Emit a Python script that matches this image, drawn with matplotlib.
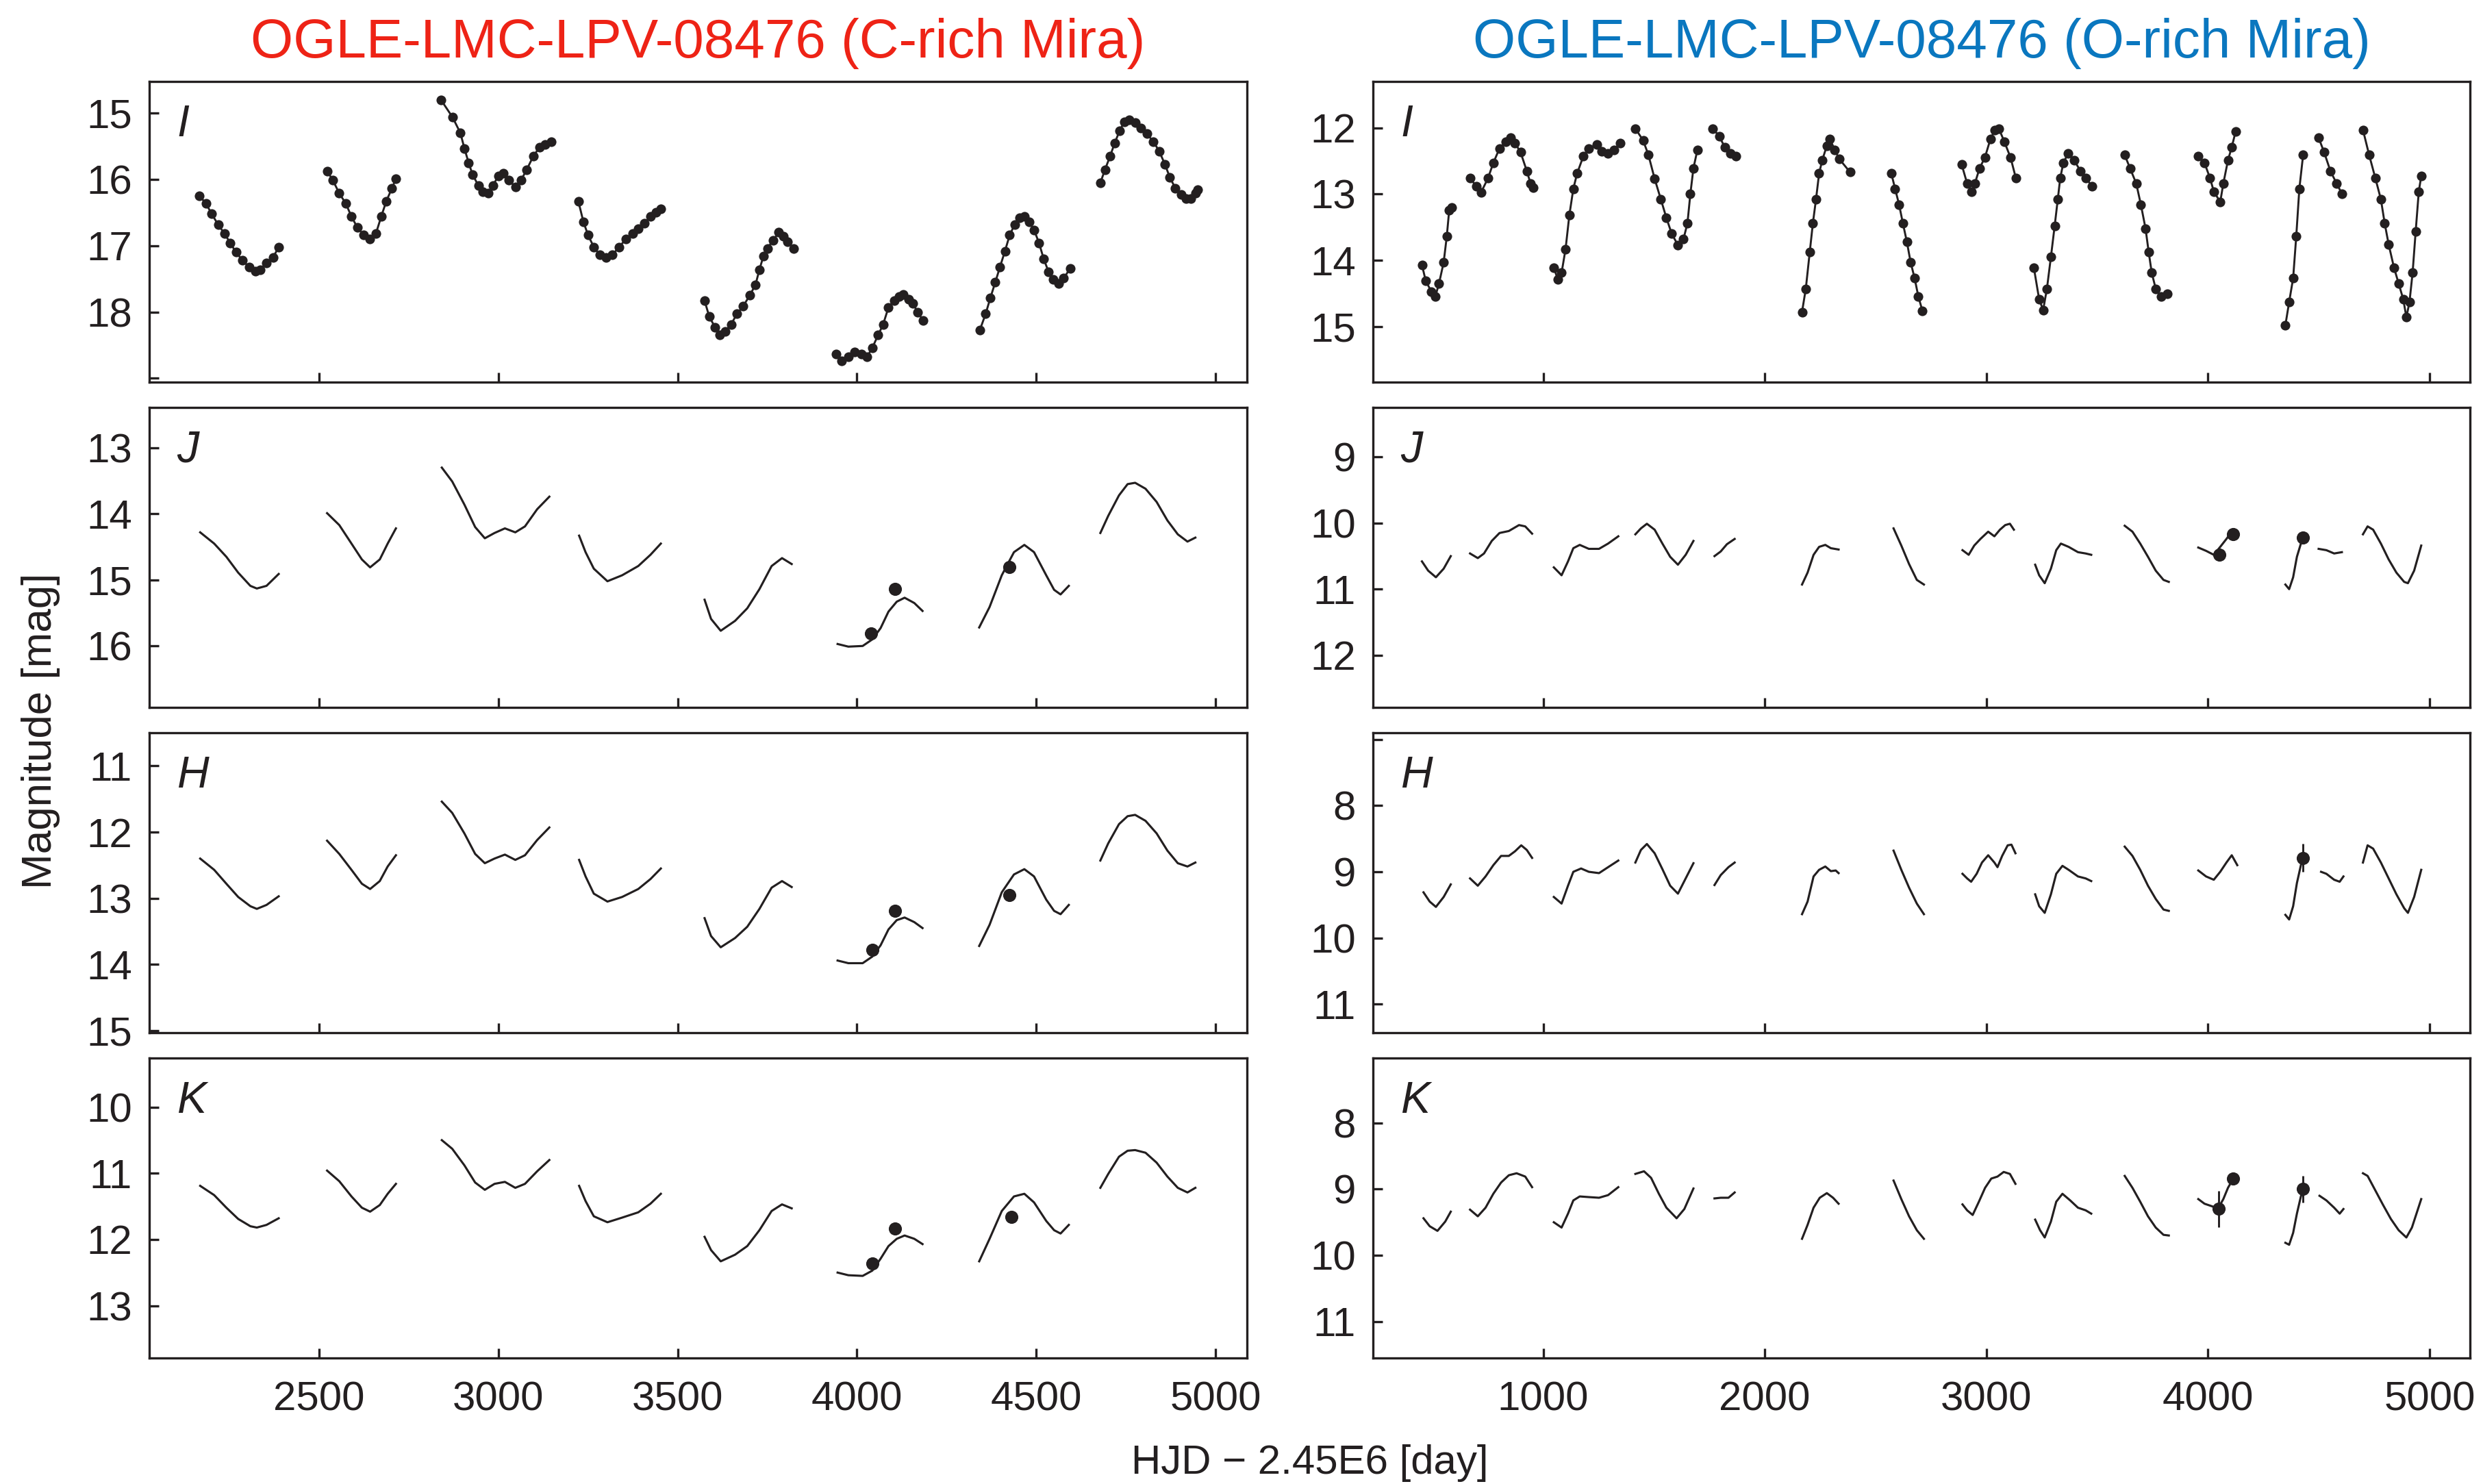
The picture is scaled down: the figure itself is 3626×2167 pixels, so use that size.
import matplotlib
matplotlib.use('Agg')
import matplotlib.pyplot as plt

plt.rcParams['font.family'] = ['Liberation Sans', 'DejaVu Sans']

# ---------------- data : C-rich (left column) ----------------
C_I_t = [
    [2166, 2184, 2200, 2218, 2236, 2252, 2268, 2286, 2304, 2322, 2335, 2353, 2371, 2387],
    [2522, 2538, 2556, 2574, 2590, 2606, 2624, 2642, 2658, 2673, 2687, 2703, 2714],
    [2840, 2872, 2894, 2905, 2917, 2928, 2944, 2957, 2971, 2984, 3000, 3014, 3029, 3047, 3063, 3079, 3097, 3115, 3131, 3147],
    [3223, 3237, 3250, 3266, 3282, 3300, 3318, 3336, 3356, 3374, 3390, 3408, 3424, 3439, 3453],
    [3575, 3588, 3604, 3617, 3633, 3649, 3665, 3683, 3701, 3717, 3728, 3739, 3750, 3766, 3782, 3795, 3807, 3823],
    [3942, 3958, 3976, 3994, 4012, 4028, 4043, 4059, 4073, 4088, 4104, 4118, 4129, 4145, 4156, 4170, 4185],
    [4343, 4359, 4372, 4386, 4399, 4413, 4426, 4440, 4453, 4467, 4480, 4494, 4508, 4521, 4535, 4548, 4562, 4577, 4595],
    [4679, 4692, 4706, 4719, 4733, 4746, 4760, 4776, 4791, 4809, 4827, 4843, 4859, 4873, 4888, 4904, 4918, 4931, 4945, 4951],
]
C_I_m = [
    [16.25, 16.36, 16.52, 16.68, 16.82, 16.96, 17.10, 17.22, 17.32, 17.38, 17.36, 17.26, 17.18, 17.02],
    [15.87, 16.01, 16.21, 16.36, 16.56, 16.72, 16.84, 16.90, 16.82, 16.56, 16.33, 16.13, 15.99],
    [14.80, 15.06, 15.30, 15.53, 15.75, 15.93, 16.09, 16.19, 16.21, 16.09, 15.95, 15.91, 16.01, 16.11, 16.01, 15.85, 15.65, 15.51, 15.47, 15.43],
    [16.33, 16.64, 16.84, 17.02, 17.14, 17.18, 17.14, 17.02, 16.90, 16.82, 16.74, 16.66, 16.56, 16.50, 16.44],
    [17.83, 18.07, 18.23, 18.35, 18.29, 18.19, 18.03, 17.91, 17.75, 17.59, 17.36, 17.16, 17.04, 16.92, 16.80, 16.86, 16.94, 17.04],
    [18.64, 18.74, 18.68, 18.60, 18.64, 18.68, 18.54, 18.35, 18.19, 17.93, 17.83, 17.77, 17.74, 17.81, 17.87, 18.01, 18.13],
    [18.27, 18.03, 17.79, 17.55, 17.32, 17.08, 16.84, 16.68, 16.58, 16.56, 16.64, 16.76, 16.96, 17.20, 17.40, 17.51, 17.57, 17.49, 17.34],
    [16.05, 15.85, 15.65, 15.45, 15.26, 15.13, 15.10, 15.14, 15.22, 15.31, 15.43, 15.57, 15.77, 15.97, 16.13, 16.23, 16.29, 16.29, 16.21, 16.15],
]

C_J_t = [
    [2168, 2207, 2241, 2274, 2308, 2326, 2353, 2387],
    [2522, 2556, 2590, 2619, 2642, 2669, 2691, 2714],
    [2842, 2871, 2905, 2935, 2962, 2989, 3018, 3047, 3074, 3108, 3142],
    [3225, 3243, 3266, 3304, 3345, 3390, 3424, 3453],
    [3575, 3593, 3620, 3660, 3694, 3728, 3762, 3791, 3818],
    [3946, 3976, 4016, 4043, 4066, 4088, 4111, 4133, 4160, 4183],
    [4341, 4370, 4404, 4438, 4467, 4494, 4528, 4550, 4568, 4591],
    [4679, 4701, 4731, 4755, 4776, 4805, 4836, 4866, 4895, 4922, 4944],
]
C_J_m = [
    [14.28, 14.45, 14.65, 14.89, 15.09, 15.13, 15.09, 14.91],
    [13.99, 14.17, 14.45, 14.69, 14.81, 14.69, 14.45, 14.22],
    [13.30, 13.51, 13.86, 14.20, 14.37, 14.29, 14.22, 14.28, 14.19, 13.93, 13.74],
    [14.33, 14.58, 14.83, 15.02, 14.93, 14.79, 14.62, 14.45],
    [15.30, 15.59, 15.77, 15.62, 15.43, 15.14, 14.79, 14.67, 14.76],
    [15.97, 16.01, 16.00, 15.90, 15.73, 15.48, 15.33, 15.27, 15.35, 15.47],
    [15.72, 15.41, 14.93, 14.58, 14.47, 14.58, 14.93, 15.15, 15.22, 15.09],
    [14.29, 14.03, 13.72, 13.55, 13.53, 13.62, 13.82, 14.10, 14.31, 14.42, 14.36],
]
C_H_t = C_J_t
C_H_m = [
    [12.40, 12.57, 12.78, 12.98, 13.12, 13.16, 13.10, 12.97],
    [12.13, 12.33, 12.57, 12.78, 12.86, 12.74, 12.52, 12.35],
    [11.54, 11.71, 12.02, 12.33, 12.47, 12.40, 12.34, 12.42, 12.35, 12.12, 11.93],
    [12.42, 12.67, 12.93, 13.05, 12.98, 12.86, 12.71, 12.55],
    [13.30, 13.57, 13.74, 13.60, 13.43, 13.16, 12.84, 12.74, 12.83],
    [13.94, 13.98, 13.98, 13.88, 13.71, 13.47, 13.33, 13.29, 13.36, 13.45],
    [13.72, 13.40, 12.91, 12.64, 12.56, 12.67, 13.02, 13.19, 13.24, 13.10],
    [12.43, 12.17, 11.88, 11.76, 11.74, 11.83, 12.02, 12.28, 12.47, 12.52, 12.46],
]
C_K_t = C_J_t
C_K_m = [
    [11.19, 11.33, 11.52, 11.69, 11.80, 11.82, 11.78, 11.68],
    [10.96, 11.12, 11.35, 11.52, 11.58, 11.48, 11.31, 11.16],
    [10.50, 10.63, 10.88, 11.14, 11.25, 11.16, 11.13, 11.22, 11.16, 10.97, 10.80],
    [11.19, 11.42, 11.65, 11.74, 11.67, 11.59, 11.46, 11.31],
    [11.96, 12.16, 12.33, 12.23, 12.10, 11.86, 11.57, 11.47, 11.53],
    [12.50, 12.54, 12.55, 12.47, 12.29, 12.10, 11.99, 11.94, 11.99, 12.07],
    [12.33, 11.99, 11.57, 11.35, 11.31, 11.44, 11.72, 11.86, 11.91, 11.78],
    [11.22, 11.01, 10.75, 10.66, 10.65, 10.69, 10.84, 11.05, 11.22, 11.29, 11.22],
]
# single-epoch NIR measurements (time, mag, error)
C_J_pts = ([4039, 4106, 4426], [15.81, 15.14, 14.81], [0.08, 0.0, 0.0])
C_H_pts = ([4043, 4106, 4426], [13.78, 13.19, 12.95], [0.0, 0.0, 0.0])
C_K_pts = ([4043, 4106, 4431], [12.36, 11.84, 11.66], [0.0, 0.0, 0.0])

# ---------------- data : O-rich (right column) ----------------
O_I_t = [
    [453, 470, 495, 513, 530, 551, 565, 576, 586],
    [670, 698, 719, 751, 775, 803, 831, 852, 873, 898, 926, 943, 954],
    [1048, 1066, 1083, 1101, 1118, 1136, 1153, 1181, 1206, 1241, 1265, 1293, 1321, 1346],
    [1416, 1451, 1475, 1503, 1531, 1556, 1580, 1608, 1633, 1651, 1664, 1678, 1696],
    [1766, 1795, 1819, 1846, 1871],
    [2168, 2185, 2203, 2217, 2231, 2245, 2259, 2280, 2294, 2315, 2336, 2385],
    [2571, 2588, 2606, 2623, 2641, 2658, 2676, 2693, 2711],
    [2888, 2913, 2934, 2948, 2969, 2993, 3018, 3039, 3056, 3081, 3109, 3133],
    [3214, 3238, 3256, 3273, 3291, 3308, 3322, 3333, 3347, 3368, 3396, 3424, 3448, 3477],
    [3624, 3648, 3676, 3697, 3718, 3732, 3746, 3764, 3788, 3816],
    [3956, 3984, 4009, 4026, 4055, 4069, 4090, 4107, 4125],
    [4349, 4366, 4384, 4398, 4412, 4429],
    [4499, 4524, 4552, 4580, 4605],
    [4699, 4727, 4755, 4780, 4797, 4815, 4839, 4860, 4881, 4895, 4909, 4923, 4937, 4951, 4962],
]
O_I_m = [
    [14.07, 14.31, 14.47, 14.55, 14.35, 14.03, 13.64, 13.24, 13.20],
    [12.76, 12.88, 12.98, 12.76, 12.53, 12.31, 12.21, 12.15, 12.23, 12.37, 12.65, 12.84, 12.90],
    [14.11, 14.29, 14.19, 13.83, 13.32, 12.92, 12.69, 12.43, 12.31, 12.25, 12.35, 12.39, 12.33, 12.23],
    [12.01, 12.19, 12.41, 12.77, 13.08, 13.36, 13.60, 13.77, 13.68, 13.44, 13.00, 12.61, 12.33],
    [12.01, 12.13, 12.29, 12.39, 12.43],
    [14.78, 14.43, 13.87, 13.44, 13.08, 12.69, 12.49, 12.27, 12.17, 12.33, 12.47, 12.67],
    [12.69, 12.92, 13.16, 13.44, 13.72, 14.03, 14.27, 14.55, 14.76],
    [12.55, 12.84, 12.96, 12.84, 12.61, 12.45, 12.17, 12.03, 12.01, 12.21, 12.45, 12.76],
    [14.11, 14.59, 14.75, 14.43, 13.95, 13.48, 13.08, 12.76, 12.53, 12.39, 12.49, 12.65, 12.76, 12.88],
    [12.41, 12.61, 12.84, 13.16, 13.52, 13.87, 14.19, 14.43, 14.55, 14.51],
    [12.43, 12.53, 12.76, 12.96, 13.12, 12.84, 12.49, 12.29, 12.05],
    [14.98, 14.63, 14.27, 13.64, 12.92, 12.41],
    [12.15, 12.37, 12.65, 12.84, 13.00],
    [12.03, 12.41, 12.76, 13.08, 13.44, 13.76, 14.11, 14.35, 14.59, 14.86, 14.63, 14.19, 13.56, 12.96, 12.73],
]

O_J_t = [
    [453, 481, 516, 551, 583],
    [670, 705, 733, 768, 803, 845, 891, 919, 950],
    [1048, 1083, 1112, 1136, 1165, 1206, 1252, 1293, 1339],
    [1416, 1441, 1468, 1503, 1538, 1573, 1608, 1643, 1678],
    [1773, 1801, 1829, 1864],
    [2168, 2193, 2220, 2245, 2273, 2298, 2333],
    [2581, 2616, 2651, 2686, 2718],
    [2892, 2920, 2945, 2973, 3008, 3036, 3061, 3085, 3106, 3124],
    [3220, 3238, 3263, 3291, 3315, 3336, 3371, 3413, 3448, 3473],
    [3624, 3659, 3694, 3729, 3764, 3799, 3823],
    [3956, 3991, 4026, 4055, 4083, 4114],
    [4349, 4366, 4384, 4401, 4419, 4429],
    [4499, 4534, 4569, 4604],
    [4699, 4720, 4745, 4780, 4815, 4850, 4885, 4902, 4930, 4962],
]
O_J_m = [
    [10.58, 10.72, 10.82, 10.69, 10.50],
    [10.46, 10.53, 10.46, 10.27, 10.15, 10.12, 10.03, 10.05, 10.16],
    [10.67, 10.79, 10.58, 10.38, 10.33, 10.39, 10.39, 10.31, 10.20],
    [10.17, 10.08, 10.01, 10.10, 10.31, 10.51, 10.63, 10.48, 10.27],
    [10.50, 10.43, 10.32, 10.24],
    [10.93, 10.75, 10.48, 10.36, 10.33, 10.38, 10.40],
    [10.08, 10.34, 10.62, 10.86, 10.93],
    [10.41, 10.48, 10.34, 10.24, 10.13, 10.20, 10.10, 10.03, 10.01, 10.10],
    [10.63, 10.79, 10.91, 10.69, 10.41, 10.31, 10.36, 10.44, 10.46, 10.48],
    [10.04, 10.13, 10.31, 10.51, 10.72, 10.86, 10.89],
    [10.37, 10.42, 10.48, 10.36, 10.24, 10.10],
    [10.93, 11.00, 10.82, 10.51, 10.31, 10.22],
    [10.39, 10.41, 10.46, 10.44],
    [10.17, 10.05, 10.10, 10.31, 10.55, 10.75, 10.89, 10.91, 10.72, 10.34],
]
O_H_t = [
    [460, 488, 516, 551, 583],
    [670, 705, 740, 775, 810, 845, 873, 901, 926, 950],
    [1048, 1083, 1112, 1136, 1171, 1206, 1252, 1293, 1339],
    [1416, 1441, 1468, 1503, 1538, 1573, 1608, 1643, 1678],
    [1773, 1801, 1836, 1864],
    [2168, 2193, 2220, 2245, 2273, 2298, 2320, 2333],
    [2581, 2616, 2651, 2686, 2718],
    [2892, 2913, 2931, 2956, 2980, 3008, 3036, 3050, 3071, 3096, 3113, 3131],
    [3220, 3238, 3263, 3291, 3315, 3343, 3371, 3413, 3448, 3473],
    [3624, 3659, 3694, 3729, 3764, 3799, 3823],
    [3956, 3991, 4026, 4055, 4083, 4107, 4132],
    [4349, 4366, 4384, 4401, 4419, 4429],
    [4510, 4534, 4569, 4594, 4611],
    [4699, 4720, 4745, 4780, 4815, 4850, 4885, 4902, 4930, 4962],
]
O_H_m = [
    [9.31, 9.45, 9.53, 9.38, 9.19],
    [9.10, 9.21, 9.07, 8.90, 8.76, 8.76, 8.69, 8.60, 8.67, 8.79],
    [9.38, 9.48, 9.21, 9.00, 8.95, 9.00, 9.02, 8.93, 8.83],
    [8.86, 8.67, 8.58, 8.72, 8.96, 9.21, 9.33, 9.10, 8.87],
    [9.20, 9.05, 8.93, 8.86],
    [9.64, 9.45, 9.07, 8.97, 8.92, 8.99, 8.98, 9.02],
    [8.68, 8.97, 9.24, 9.48, 9.64],
    [9.03, 9.10, 9.15, 9.03, 8.86, 8.75, 8.86, 8.93, 8.76, 8.60, 8.59, 8.72],
    [9.34, 9.52, 9.62, 9.34, 9.03, 8.91, 8.97, 9.07, 9.10, 9.14],
    [8.62, 8.76, 8.97, 9.21, 9.41, 9.57, 9.59],
    [8.98, 9.07, 9.12, 9.00, 8.86, 8.75, 8.90],
    [9.65, 9.72, 9.52, 9.17, 8.90, 8.79],
    [9.00, 9.03, 9.12, 9.15, 9.07],
    [8.86, 8.60, 8.65, 8.86, 9.10, 9.34, 9.55, 9.62, 9.38, 8.97],
]
O_K_t = [
    [460, 488, 523, 558, 583],
    [670, 705, 740, 775, 810, 845, 880, 919, 950],
    [1048, 1083, 1112, 1136, 1165, 1206, 1252, 1293, 1339],
    [1416, 1455, 1487, 1522, 1556, 1602, 1637, 1678],
    [1773, 1801, 1836, 1864],
    [2168, 2193, 2220, 2248, 2280, 2308, 2333],
    [2581, 2616, 2651, 2686, 2718],
    [2892, 2913, 2938, 2966, 2994, 3022, 3050, 3078, 3106, 3131],
    [3220, 3242, 3263, 3291, 3315, 3343, 3378, 3413, 3448, 3473],
    [3624, 3659, 3694, 3729, 3764, 3799, 3823],
    [3956, 3984, 4019, 4044, 4069, 4090, 4114],
    [4349, 4366, 4384, 4401, 4419, 4429],
    [4503, 4534, 4569, 4594, 4611],
    [4699, 4720, 4755, 4790, 4825, 4860, 4895, 4920, 4962],
]
O_K_m = [
    [9.44, 9.56, 9.63, 9.49, 9.34],
    [9.31, 9.41, 9.28, 9.07, 8.90, 8.79, 8.76, 8.81, 8.97],
    [9.50, 9.58, 9.37, 9.17, 9.11, 9.12, 9.13, 9.09, 8.97],
    [8.77, 8.73, 8.83, 9.07, 9.28, 9.44, 9.30, 8.99],
    [9.14, 9.13, 9.13, 9.05],
    [9.75, 9.54, 9.28, 9.13, 9.06, 9.13, 9.22],
    [8.87, 9.15, 9.41, 9.62, 9.75],
    [9.23, 9.32, 9.39, 9.19, 8.98, 8.84, 8.81, 8.74, 8.77, 8.92],
    [9.46, 9.62, 9.73, 9.49, 9.19, 9.07, 9.17, 9.28, 9.32, 9.37],
    [8.80, 8.98, 9.19, 9.41, 9.58, 9.69, 9.70],
    [9.15, 9.22, 9.26, 9.30, 9.15, 8.98, 8.84],
    [9.81, 9.84, 9.66, 9.37, 9.11, 9.00],
    [9.10, 9.17, 9.28, 9.37, 9.30],
    [8.76, 8.80, 9.02, 9.24, 9.45, 9.62, 9.73, 9.58, 9.15],
]
O_J_pts = ([4051, 4114, 4429], [10.48, 10.17, 10.22], [0.0, 0.0, 0.0])
O_H_pts = ([4429], [8.79], [0.21])
O_K_pts = ([4047, 4114, 4429], [9.30, 8.84, 9.00], [0.27, 0.0, 0.20])

titles = ['OGLE-LMC-LPV-08476 (C-rich Mira)', 'OGLE-LMC-LPV-08476 (O-rich Mira)']
title_colors = ['#EE2316', '#0A77BF']
bands = ['I', 'J', 'H', 'K']
xlims = [(2026, 5088), (232, 5182)]
xticks = [[2500, 3000, 3500, 4000, 4500, 5000], [1000, 2000, 3000, 4000, 5000]]
ylims = [
    [(19.06, 14.52), (16.93, 12.39), (15.03, 10.50), (13.79, 9.26)],
    [(15.84, 11.30), (12.79, 8.25), (11.43, 6.90), (11.55, 7.02)],
]
yticks = [
    [[15, 16, 17, 18, 19], [13, 14, 15, 16], [11, 12, 13, 14, 15], [10, 11, 12, 13]],
    [[12, 13, 14, 15], [9, 10, 11, 12], [7, 8, 9, 10, 11], [8, 9, 10, 11]],
]
ylabels_tick = [
    [['15', '16', '17', '18', ''], ['13', '14', '15', '16'], ['11', '12', '13', '14', '15'], ['10', '11', '12', '13']],
    [['12', '13', '14', '15'], ['9', '10', '11', '12'], ['', '8', '9', '10', '11'], ['8', '9', '10', '11']],
]

curves = [[(C_J_t, C_J_m), (C_H_t, C_H_m), (C_K_t, C_K_m)],
          [(O_J_t, O_J_m), (O_H_t, O_H_m), (O_K_t, O_K_m)]]
points = [[C_J_pts, C_H_pts, C_K_pts], [O_J_pts, O_H_pts, O_K_pts]]
iband = [(C_I_t, C_I_m), (O_I_t, O_I_m)]

# ---------------- figure ----------------
W, H = 3626, 2167
fig = plt.figure(figsize=(W / 300, H / 300), dpi=300)
col_left = [218, 2005]
col_right = [1821, 3607]
row_top = [119, 595, 1070, 1545]
row_bot = [558, 1033, 1508, 1983]
ink = '#231F20'
FS = 14.4

for c in range(2):
    for r in range(4):
        ax = fig.add_axes([col_left[c] / W, 1 - row_bot[r] / H,
                           (col_right[c] - col_left[c]) / W, (row_bot[r] - row_top[r]) / H])
        if r == 0:
            tt, mm = iband[c]
            for t, m in zip(tt, mm):
                ax.plot(t, m, '-', color=ink, lw=0.7, marker='o', ms=3.4,
                        mec=ink, mfc=ink, mew=0)
        else:
            tt, mm = curves[c][r - 1]
            for t, m in zip(tt, mm):
                ax.plot(t, m, '-', color=ink, lw=0.75)
            pt, pm, pe = points[c][r - 1]
            ax.errorbar(pt, pm, yerr=pe, fmt='o', color=ink, ms=4.6, mew=0,
                        elinewidth=0.7, capsize=1.8, capthick=0.7)
        ax.set_xlim(*xlims[c])
        ax.set_ylim(*ylims[c][r])
        ax.set_xticks(xticks[c])
        ax.set_yticks(yticks[c][r])
        ax.set_yticklabels(ylabels_tick[c][r])
        if r < 3:
            ax.set_xticklabels([])
        for s in ax.spines.values():
            s.set_linewidth(0.8)
            s.set_color(ink)
        ax.tick_params(axis='both', direction='in', length=3.4, width=0.8,
                       color=ink, labelcolor=ink, labelsize=FS,
                       top=False, right=False)
        ax.tick_params(axis='y', pad=6)
        ax.tick_params(axis='x', pad=8)
        ax.text(0.025, 0.925, bands[r], transform=ax.transAxes, fontsize=15.5,
                style='italic', color=ink, ha='left', va='top')
    xc = (col_left[c] + col_right[c]) / 2 / W
    fig.text(xc, 1 - 84 / H, titles[c], color=title_colors[c], fontsize=19.2,
             ha='center', va='baseline')

fig.text(1913 / W, 1 - 2152 / H, 'HJD \u2212 2.45E6 [day]', fontsize=FS, color=ink,
         ha='center', va='baseline')
fig.text(59 / W, 1 - 1067 / H, 'Magnitude [mag]', fontsize=14.9, color=ink,
         rotation=90, ha='center', va='center')

fig.savefig('out.png', dpi=300)
